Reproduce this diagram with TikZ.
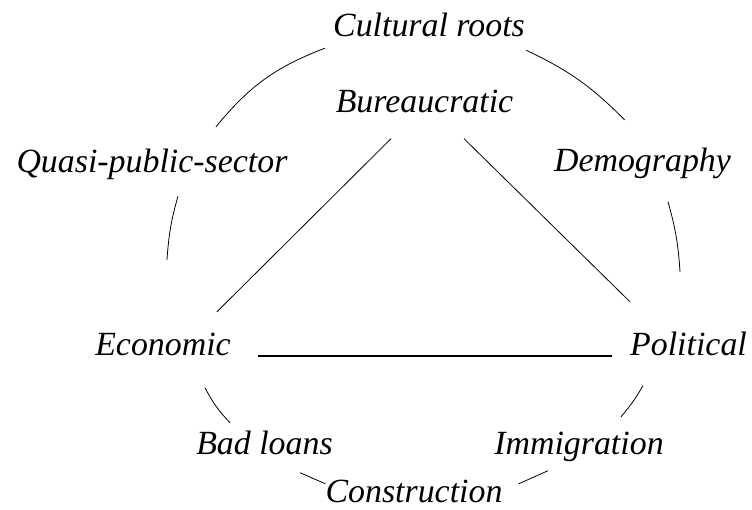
\documentclass[tikz,border=0pt]{standalone}
\usepackage{fontspec}
\setmainfont{Liberation Serif}
\usetikzlibrary{positioning, calc}

\begin{document}
\begin{tikzpicture}[
            x=1bp, y=-1bp,
            factor/.style={font=\fontsize{34}{40}\selectfont\itshape, inner sep=0pt,
                text height=24bp, text depth=8bp, anchor=base},
            link/.style={line width=0.8pt},
            base link/.style={line width=1.5pt},
        ]
            \useasboundingbox (0,0) rectangle (752,510);

            % outer ring
            \node[factor] (cult) at (429,37) {Cultural roots};
            \node[factor] (quasi) at (152,173) {Quasi-public-sector};
            \node[factor] (demo) at (642.5,172) {Demography};
            \node[factor] (bad) at (264.5,454) {Bad loans};
            \node[factor] (imm) at (579,454) {Immigration};
            \node[factor] (cons) at (414,502) {Construction};

            % triangle corners
            \node[factor] (bur) at (424.5,113) {Bureaucratic};
            \node[factor] (econ) at (163,355) {Economic};
            \node[factor] (pol) at (688.5,355) {Political};

            \draw[link] ($(cult.south west)+(-8,3)$) to[bend right=15] ($(quasi.north)+(64,-22)$);
            \draw[link] ($(quasi.south)+(26,15)$) to[bend right=6] ($(econ.north)+(4,-71)$);
            \draw[link] ($(cult.south east)+(1,5)$) to[bend left=10] ($(demo.north)+(-18,-28)$);
            \draw[link] ($(demo.south)+(25.5,21.5)$) to[bend left=6] ($(pol.north)+(-8.5,-59)$);
            \draw[link] ($(econ.south)+(42,24.5)$) to[bend right=8] ($(bad.north)+(-34.5,-7)$);
            \draw[link] ($(pol.south)+(-45.5,22.5)$) to[bend left=5] ($(imm.north)+(42,-13)$);
            \draw[link] ($(bad.south)+(35.5,10.5)$) -- ($(cons.north west)+(0,6)$);
            \draw[link] ($(cons.north east)+(16,6)$) -- ($(imm.south)+(-31,8.5)$);

            \draw[link] ($(bur.south)+(-33.5,17.5)$) -- ($(econ.north east)+(-14,-19)$);
            \draw[link] ($(bur.south)+(39.5,17.5)$) -- ($(pol.north west)+(0,-29)$);
            \draw[base link] ($(econ.base east)+(27,1)$) -- ($(pol.base west)+(-18,1)$);
        \end{tikzpicture}
\end{document}
